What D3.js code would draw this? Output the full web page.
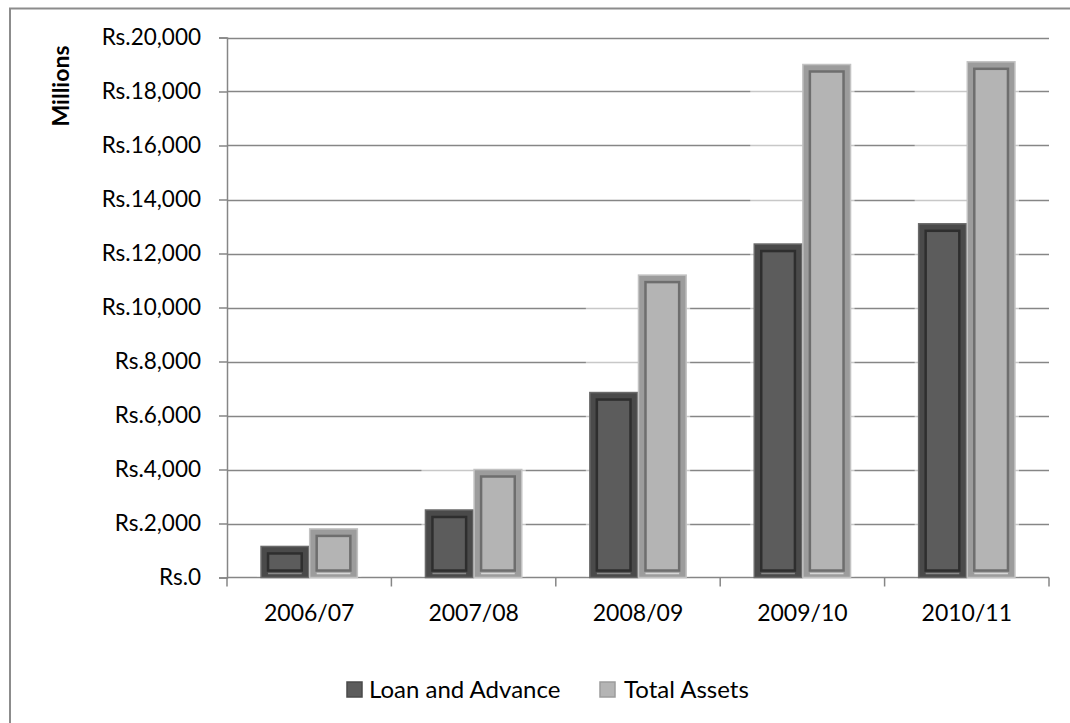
<!DOCTYPE html>
<html>
<head>
<meta charset="utf-8">
<script src="https://cdn.jsdelivr.net/npm/d3@7"></script>
<style>
  html, body { margin: 0; padding: 0; background: #fff; }
  svg { display: block; font-family: Lato, "Open Sans", "Liberation Sans", sans-serif; }
</style>
</head>
<body>
<svg id="chart" width="1070" height="723"></svg>
<script>
// Fiscal years and the two series (Rs. millions)
const years = ["2006/07", "2007/08", "2008/09", "2009/10", "2010/11"];
const loanAndAdvance = [1150, 2500, 6850, 12350, 13100];
const totalAssets = [1800, 4000, 11200, 19000, 19100];
const seriesNames = ["Loan and Advance", "Total Assets"];
const yTicks = [0, 2000, 4000, 6000, 8000, 10000, 12000, 14000, 16000, 18000, 20000];

const svg = d3.select("#chart");
const plot = { left: 227, right: 1049, top: 37.5, bottom: 577.5 };
const axisColor = "#868686";

// Outer chart frame
svg.append("rect")
  .attr("x", 10).attr("y", 8.5)
  .attr("width", 1080).attr("height", 740)
  .attr("fill", "none").attr("stroke", "#8c8c8c").attr("stroke-width", 2);

const x = d3.scaleBand().domain(years).range([plot.left, plot.right]).paddingInner(0).paddingOuter(0);
const y = d3.scaleLinear().domain([0, 20000]).range([plot.bottom, plot.top]);

const fmt = v => "Rs." + (v === 0 ? "0" : d3.format(",")(v));

// Horizontal gridlines
svg.append("g").selectAll("line")
  .data(yTicks.filter(d => d > 0))
  .join("line")
  .attr("x1", plot.left).attr("x2", plot.right)
  .attr("y1", d => Math.round(y(d)) + 0.5).attr("y2", d => Math.round(y(d)) + 0.5)
  .attr("stroke", axisColor).attr("stroke-width", 1.5);

// Y axis
const yAxis = svg.append("g")
  .attr("transform", `translate(${plot.left},0)`)
  .call(d3.axisLeft(y).tickValues(yTicks).tickFormat(fmt).tickSize(8).tickPadding(18));
yAxis.select(".domain").attr("stroke", axisColor).attr("stroke-width", 1.5);
yAxis.selectAll(".tick line").attr("stroke", axisColor).attr("stroke-width", 1.5);
yAxis.selectAll(".tick text")
  .attr("fill", "#000").style("font-size", "22.5px").style("font-family", "Lato, sans-serif");

// X axis with boundary ticks between categories
const xAxisG = svg.append("g");
xAxisG.append("line")
  .attr("x1", plot.left).attr("x2", plot.right)
  .attr("y1", plot.bottom).attr("y2", plot.bottom)
  .attr("stroke", axisColor).attr("stroke-width", 1.5);
const bounds = years.map(d => x(d)).concat([x(years[years.length - 1]) + x.bandwidth()]);
xAxisG.selectAll("line.tk").data(bounds).join("line").attr("class", "tk")
  .attr("x1", d => d).attr("x2", d => d)
  .attr("y1", plot.bottom).attr("y2", plot.bottom + 9)
  .attr("stroke", axisColor).attr("stroke-width", 1.5);
xAxisG.selectAll("text").data(years).join("text")
  .attr("x", d => x(d) + x.bandwidth() / 2)
  .attr("y", 621)
  .attr("text-anchor", "middle")
  .style("font-size", "23px")
  .text(d => d);

// Y axis title
svg.append("text")
  .attr("transform", "translate(69,86) rotate(-90)")
  .attr("text-anchor", "middle")
  .style("font-size", "23px").style("font-weight", "bold")
  .text("Millions");

// Bars
const inner = d3.scaleBand().domain(seriesNames).range([0, x.bandwidth()]).paddingOuter(0.7).paddingInner(0.02);
const styles = {
  "Loan and Advance": { outer: "#4a4a4a", edge: "#6a6a6a", line: "#2e2e2e", fill: "#5c5c5c", base: "#8a8a8a" },
  "Total Assets": { outer: "#9c9c9c", edge: "#c2c2c2", line: "#6e6e6e", fill: "#b4b4b4", base: "#d6d6d6" }
};

const groups = years.map((yr, i) => ({ yr, vals: [loanAndAdvance[i], totalAssets[i]] }));

// Soft light halo behind each pair of bars
svg.append("g").selectAll("rect")
  .data(groups).join("rect")
  .attr("x", d => x(d.yr) + inner(seriesNames[0]) - 4)
  .attr("width", inner.step() + inner.bandwidth() + 8)
  .attr("y", d => y(d3.max(d.vals)) - 2)
  .attr("height", d => plot.bottom - y(d3.max(d.vals)) + 1)
  .attr("fill", "#fff").attr("opacity", 0.55);

const barData = [];
groups.forEach(g => g.vals.forEach((v, j) => barData.push({ yr: g.yr, name: seriesNames[j], v })));

const bar = svg.append("g").selectAll("g")
  .data(barData).join("g")
  .attr("transform", d => `translate(${x(d.yr) + inner(d.name)},${y(d.v)})`);

bar.append("rect")
  .attr("width", inner.bandwidth())
  .attr("height", d => plot.bottom - y(d.v))
  .attr("fill", d => styles[d.name].outer)
  .attr("stroke", d => styles[d.name].edge).attr("stroke-width", 1.5);

const inset = 7;
bar.append("rect")
  .attr("x", inset).attr("y", inset)
  .attr("width", inner.bandwidth() - 2 * inset)
  .attr("height", d => Math.max(0, plot.bottom - y(d.v) - 2 * inset))
  .attr("fill", d => styles[d.name].fill)
  .attr("stroke", d => styles[d.name].line).attr("stroke-width", 2.5);

bar.append("line")
  .attr("x1", inset).attr("x2", inner.bandwidth() - inset)
  .attr("y1", d => plot.bottom - y(d.v) - 4).attr("y2", d => plot.bottom - y(d.v) - 4)
  .attr("stroke", d => styles[d.name].base).attr("stroke-width", 1.5);

// Legend
const legend = svg.append("g");
const legendItems = [
  { name: seriesNames[0], sx: 347, tx: 369 },
  { name: seriesNames[1], sx: 600, tx: 624 }
];
legend.selectAll("rect").data(legendItems).join("rect")
  .attr("x", d => d.sx).attr("y", 682)
  .attr("width", 15).attr("height", 15)
  .attr("fill", d => styles[d.name].fill)
  .attr("stroke", d => styles[d.name].outer).attr("stroke-width", 1.5);
legend.selectAll("text").data(legendItems).join("text")
  .attr("x", d => d.tx).attr("y", 698)
  .style("font-size", "24px")
  .text(d => d.name);
</script>
</body>
</html>
